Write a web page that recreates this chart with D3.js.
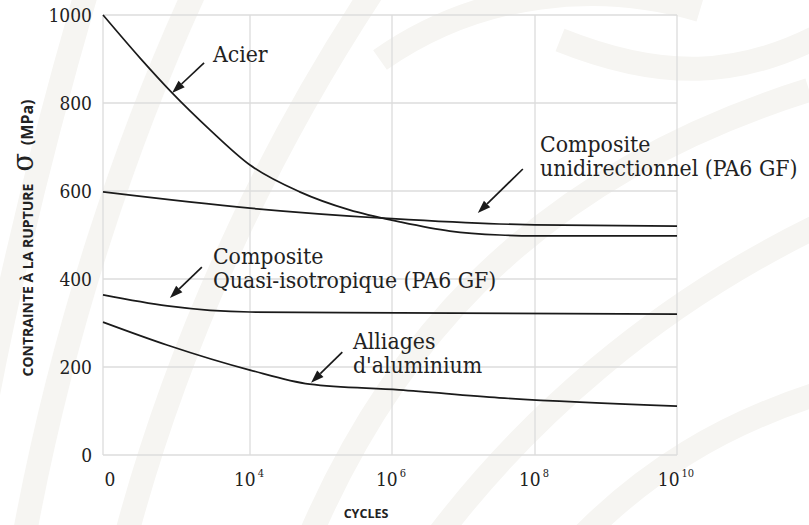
<!DOCTYPE html>
<html><head><meta charset="utf-8">
<script src="https://cdn.jsdelivr.net/npm/d3@7"></script>
<style>
html,body{margin:0;padding:0;background:#fff;}
svg{display:block;}
.serif{font-family:"DejaVu Serif Condensed","DejaVu Serif","Liberation Serif",serif;font-stretch:condensed;}
.sans{font-family:"Open Sans","Noto Sans","DejaVu Sans",sans-serif;}
</style></head>
<body>
<svg id="chart" width="809" height="525"></svg>
<script>
// ---- data ----
const xTicks = [0, 4, 6, 8, 10];                 // exponent of cycles (0 = "0")
const xTickBase = ["0", "10", "10", "10", "10"];
const xTickExp = ["", "4", "6", "8", "10"];
const yTicks = [0, 200, 400, 600, 800, 1000];

const acierX = [0, 1.01, 1.88, 2.91, 4, 4.7, 5.4, 6.11, 6.81, 7.51, 8, 10];
const acierY = [1000, 902, 823, 739, 659, 598, 557, 530, 509, 500, 498, 498];
const uniX = [0, 4, 6, 7.5, 8, 10];
const uniY = [598, 561, 537, 525, 523, 520];
const quasiX = [0, 1.75, 4, 6.1, 10];
const quasiY = [364, 339, 325, 323, 320];
const aluX = [0, 1.74, 4, 4.84, 6.1, 7.5, 10];
const aluY = [302, 250, 193, 161, 148, 130, 111];

const labelLines = [["Acier"], ["Composite", "unidirectionnel (PA6 GF)"], ["Composite", "Quasi-isotropique (PA6 GF)"], ["Alliages", "d'aluminium"]];
const labelPos = [[2.99, 893], [8.07, 688], [2.99, 434], [5.45, 241]];
const arrowTail = [[2.75, 891], [7.83, 650], [2.69, 427], [5.30, 234]];
const arrowTip = [[1.88, 823], [7.20, 550], [1.82, 357], [4.86, 164]];

// ---- scales ----
const svg = d3.select("#chart");
const x = d3.scaleLinear().domain([0, 4, 6, 8, 10]).range([103, 250, 392, 535, 677]);
const y = d3.scaleLinear().domain([0, 1000]).range([455, 15]);

// background watermark (decorative)
const bg = svg.append("g").attr("fill", "none").attr("stroke", "#f6f5f2").attr("stroke-width", 24);
["M-40,560 C-10,350 40,150 90,-20",
 "M20,560 C60,330 130,130 200,-20",
 "M120,560 C170,360 260,160 380,-20",
 "M300,560 C380,360 520,180 809,90",
 "M420,560 C520,420 660,300 830,220",
 "M560,560 C640,470 730,420 830,390",
 "M560,40 C660,80 740,80 830,30",
 "M380,60 C480,-10 600,-20 700,10"].forEach(d => bg.append("path").attr("d", d));

// grid
const grid = svg.append("g").attr("stroke", "#dcdcdc").attr("stroke-width", 1.3);
xTicks.forEach(t => grid.append("line").attr("x1", x(t)).attr("x2", x(t)).attr("y1", y(0)).attr("y2", y(1000)));
yTicks.forEach(t => grid.append("line").attr("x1", x(0)).attr("x2", x(10)).attr("y1", y(t)).attr("y2", y(t)));

// curves
const line = d3.line().x(d => x(d[0])).y(d => y(d[1])).curve(d3.curveMonotoneX);
[[acierX, acierY], [uniX, uniY], [quasiX, quasiY], [aluX, aluY]].forEach(([xs, ys]) => {
  svg.append("path").datum(xs.map((v, i) => [v, ys[i]]))
    .attr("d", line).attr("fill", "none").attr("stroke", "#1a1a1a").attr("stroke-width", 1.7);
});

// y tick labels
svg.append("g").selectAll("text").data(yTicks).join("text")
  .attr("class", "serif")
  .attr("x", 92).attr("y", d => y(d) + 7)
  .attr("text-anchor", "end").style("font-size", "19px").attr("fill", "#222")
  .text(d => d);

// x tick labels
const xl = svg.append("g").attr("class", "serif").attr("fill", "#222");
xTicks.forEach((t, i) => {
  const tx = xl.append("text").attr("x", x(t) + (i === 0 ? 7 : -1)).attr("y", 486)
    .style("font-size", "19px").attr("text-anchor", "middle");
  tx.append("tspan").text(xTickBase[i]);
  if (xTickExp[i]) tx.append("tspan").attr("dy", -9).attr("dx", 2).style("font-size", "11px").text(xTickExp[i]);
});

// axis titles
svg.append("text").attr("class", "sans").attr("x", 366).attr("y", 518).attr("text-anchor", "middle")
  .style("font-weight", 700).style("font-size", "12.5px").attr("fill", "#222").text("CYCLES");
const yt = svg.append("text").attr("class", "sans").attr("transform", "translate(33,238) rotate(-90)").attr("text-anchor", "middle")
  .style("font-weight", 700).style("font-size", "14px").attr("fill", "#222");
yt.append("tspan").text("CONTRAINTE À LA RUPTURE");
yt.append("tspan").attr("class", "serif").style("font-weight", 400).style("font-size", "30px").attr("dx", 12).text("σ");
yt.append("tspan").style("font-size", "16px").attr("dx", 8).text("(MPa)");

// annotations (each line its own text element)
const ann = svg.append("g");
labelLines.forEach((lines, i) => {
  lines.forEach((s, j) => ann.append("text").attr("class", "serif")
    .attr("x", x(labelPos[i][0])).attr("y", y(labelPos[i][1]) + j * 24)
    .style("font-size", "22.8px").attr("fill", "#222").text(s));
  const x1 = x(arrowTail[i][0]), y1 = y(arrowTail[i][1]), x2 = x(arrowTip[i][0]), y2 = y(arrowTip[i][1]);
  const ang = Math.atan2(y2 - y1, x2 - x1), L = 13, W = 4.5;
  const bx = x2 - L * Math.cos(ang), by = y2 - L * Math.sin(ang);
  ann.append("line").attr("x1", x1).attr("y1", y1).attr("x2", bx).attr("y2", by)
    .attr("stroke", "#1a1a1a").attr("stroke-width", 1.7);
  ann.append("path").attr("fill", "#1a1a1a").attr("d",
    `M${x2},${y2}L${bx - W * Math.sin(ang)},${by + W * Math.cos(ang)}L${bx + W * Math.sin(ang)},${by - W * Math.cos(ang)}Z`);
});
</script>
</body></html>
